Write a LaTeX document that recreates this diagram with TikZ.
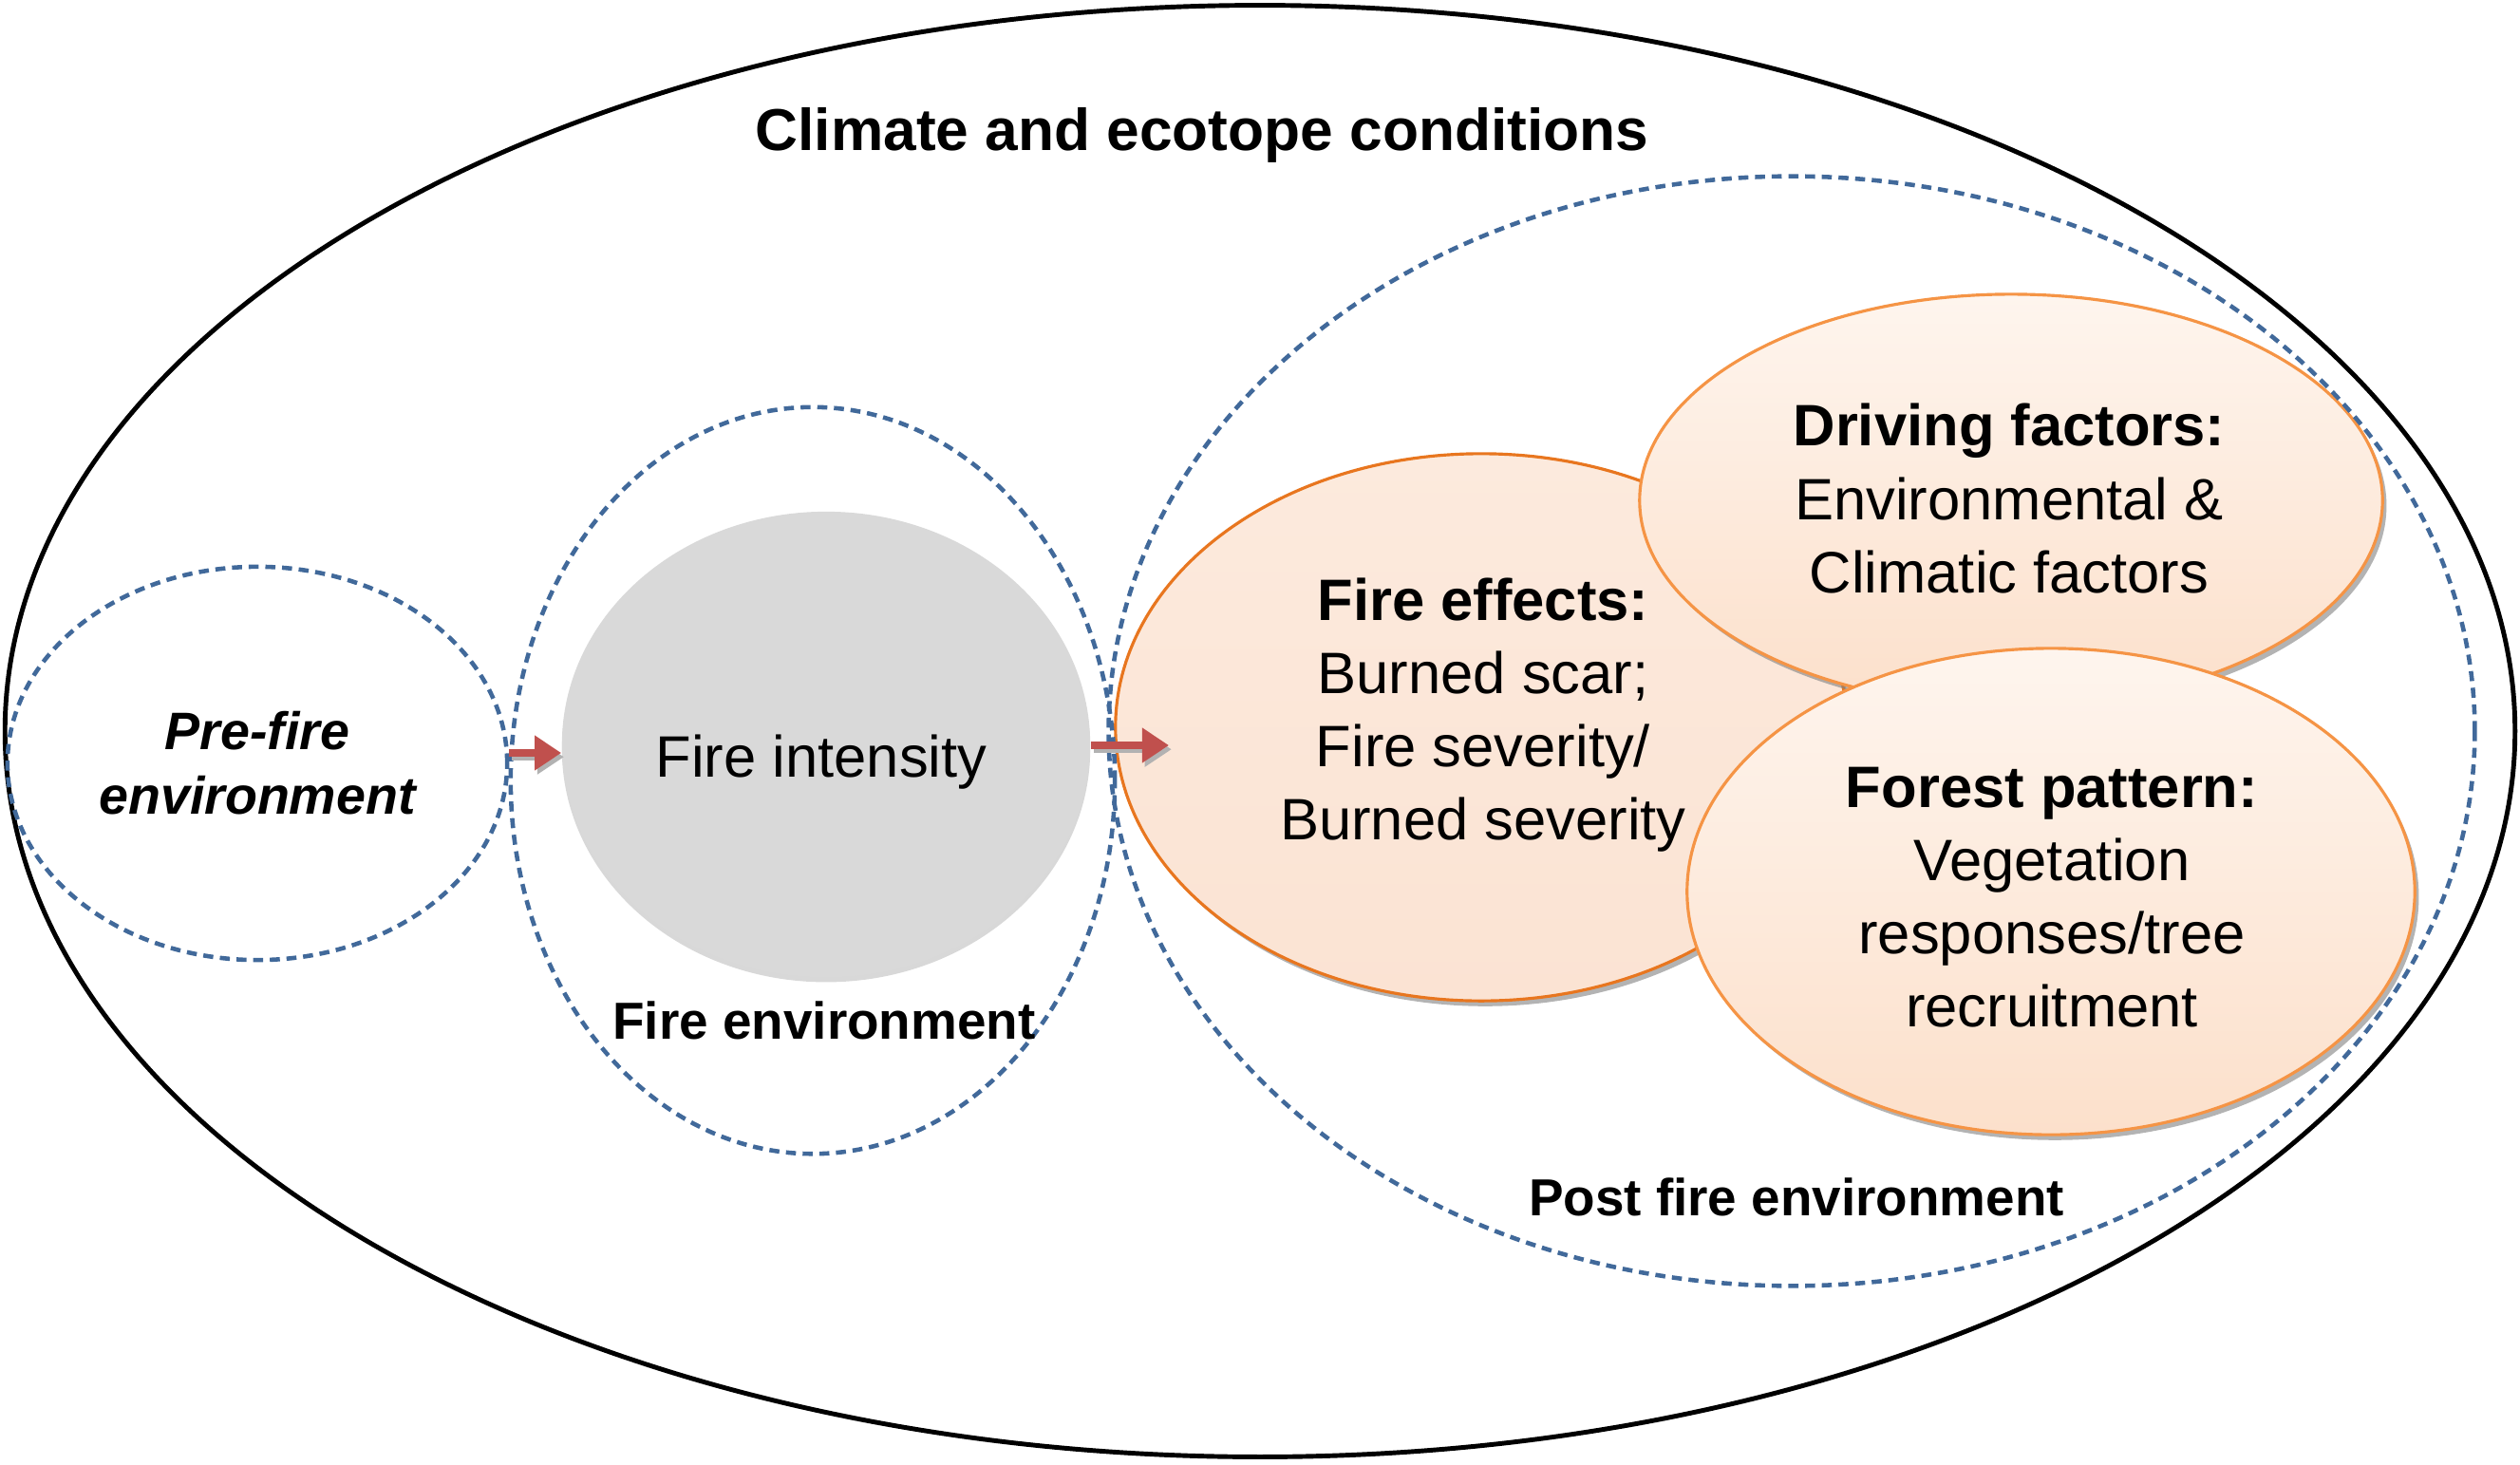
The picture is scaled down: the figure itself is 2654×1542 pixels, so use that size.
\documentclass[tikz,border=0pt]{standalone}
\usepackage{fontspec}
\setmainfont{Liberation Sans}
\usetikzlibrary{shapes.geometric,shadows,arrows.meta}
\definecolor{dashblue}{HTML}{41699A}
\definecolor{edgeorange}{HTML}{F59445}
\definecolor{darkorange}{HTML}{E8761F}
\definecolor{arrowred}{HTML}{C0504D}
\definecolor{greyfill}{HTML}{D9D9D9}
\definecolor{orangetop}{HTML}{FEF5EE}
\definecolor{orangebot}{HTML}{FCE0CB}
\definecolor{effecttop}{HTML}{FCEADD}
\definecolor{effectbot}{HTML}{FBE3D3}
\begin{document}
\begin{tikzpicture}[x=0.01cm,y=-0.01cm,
  zone/.style={ellipse, draw=dashblue, line width=1.3pt, dash pattern=on 3pt off 2pt, inner sep=0pt},
  blob/.style={ellipse, draw=edgeorange, line width=0.9pt, top color=orangetop, bottom color=orangebot, inner sep=0pt,
     drop shadow={shadow xshift=1.2pt, shadow yshift=-1.6pt, fill=black!50, opacity=0.6}},
  flow/.style={-{Triangle[length=8pt,width=10pt]}, line width=2pt, draw=arrowred},
  flowshadow/.style={-{Triangle[length=8pt,width=10pt]}, line width=2pt, draw=black!30},
  body/.style={font=\fontsize{17.5}{21.9}\selectfont, align=center, inner sep=0pt},
  caption/.style={font=\bfseries\fontsize{15.6}{19.3}\selectfont, align=center, inner sep=0pt}]

\useasboundingbox (0,0) rectangle (2654,1542);

% outer ellipse
\node[ellipse, draw=black, line width=1.4pt, minimum width=26.42cm, minimum height=15.28cm, inner sep=0pt] (outer) at (1327,770) {};

% grey circle
\node[ellipse, fill=greyfill, minimum width=5.56cm, minimum height=4.90cm, inner sep=0pt,
  drop shadow={shadow xshift=0pt, shadow yshift=-1.5pt, fill=black!30, opacity=0.5}] (grey) at (870,784) {};

% orange ellipses
\node[blob, draw=darkorange, top color=effecttop, bottom color=effectbot, minimum width=7.70cm, minimum height=5.76cm] (effects) at (1560,766) {};
\node[blob, minimum width=7.82cm, minimum height=4.34cm] (driving) at (2118,527) {};
\node[blob, minimum width=7.66cm, minimum height=5.12cm] (forest) at (2160,939) {};

% dashed zones
\node[zone, minimum width=5.26cm, minimum height=4.14cm] (pre) at (271,804) {};
\node[zone, minimum width=6.36cm, minimum height=7.86cm] (fireenv) at (856,822) {};
\node[zone, minimum width=14.38cm, minimum height=11.68cm] (post) at (1887,770) {};

% texts
\node[font=\bfseries\fontsize{17.7}{21}\selectfont, inner sep=0pt] (title) at (1266,142) {Climate and ecotope conditions};
\node[caption, font=\bfseries\itshape\fontsize{15.8}{19.3}\selectfont] (pretext) at (271,804) {Pre-fire\\environment};
\node[body] (inttext) at (865,803) {Fire intensity};
\node[caption] (envtext) at (868,1075) {Fire environment};
\node[caption] (posttext) at (1892,1261) {Post fire environment};
\node[body] (efftext) at (1562,753) {\textbf{Fire effects:}\\Burned scar;\\Fire severity/\\Burned severity};
\node[body] (drvtext) at (2116,525) {\textbf{Driving factors:}\\Environmental \&\\Climatic factors};
\node[body] (fortext) at (2161,945) {\textbf{Forest pattern:}\\Vegetation\\responses/tree\\recruitment};

% arrows
\coordinate (effin) at (1231,785);
\draw[flowshadow, transform canvas={xshift=0.8pt,yshift=-1.2pt}] (pre.east |- 0,793) -- (grey.west |- 0,793);
\draw[flow] (pre.east |- 0,793) -- (grey.west |- 0,793);
\draw[flowshadow, transform canvas={xshift=0.8pt,yshift=-1.2pt}] (grey.east |- effin) -- (effin);
\draw[flow] (grey.east |- effin) -- (effin);
\end{tikzpicture}
\end{document}
